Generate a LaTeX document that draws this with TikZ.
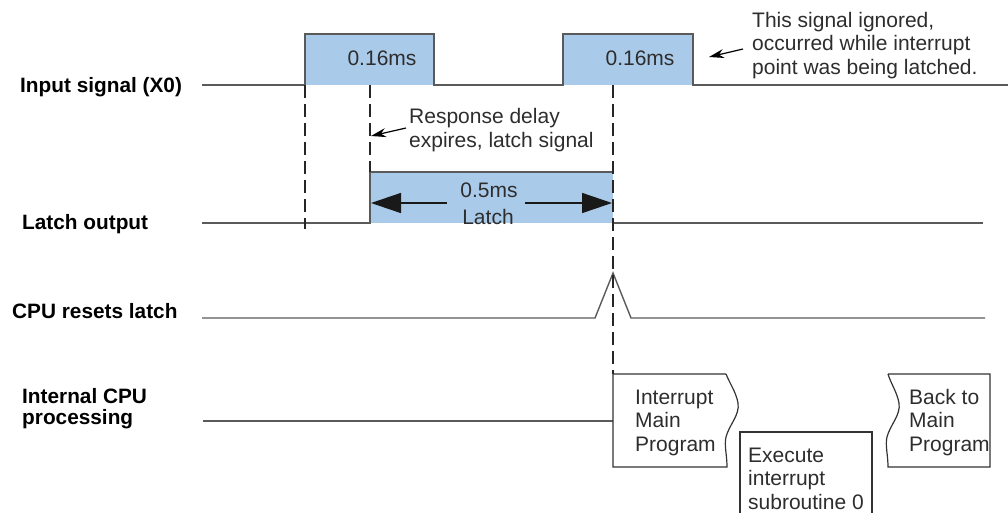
\documentclass[tikz,border=0pt]{standalone}
\usepackage{fontspec}
\setmainfont{Liberation Sans}
\usetikzlibrary{arrows.meta}
\definecolor{latchblue}{RGB}{170,202,234}
\definecolor{sig}{RGB}{90,90,90}
\definecolor{txt}{RGB}{45,45,45}
\begin{document}
\begin{tikzpicture}[x=1pt,y=-1pt,
  sigline/.style={draw=sig,line width=1.4pt},
  boxline/.style={draw=black!80,line width=1.2pt},
  guide/.style={draw=black!85,line width=1.3pt,dash pattern=on 13pt off 6pt},
  lbl/.style={font=\fontsize{20.8}{21}\selectfont\bfseries, text=black, inner sep=0pt, anchor=base west, align=left},
  ann/.style={font=\fontsize{21}{23.5}\selectfont, text=txt, inner sep=0pt, anchor=base west, align=left},
  annc/.style={font=\fontsize{21}{23.5}\selectfont, text=txt, inner sep=0pt, anchor=base},
  note/.style={draw=black,line width=1.2pt,-{Stealth[length=15pt,width=9pt]}},
  span/.style={draw=black!90,line width=1.5pt,-{Triangle[length=30pt,width=20pt]}}
]
\useasboundingbox (0,0) rectangle (1008,512);

% ---- labels (base anchor = last line's baseline)
\node[lbl] (lin) at (20,92) {Input signal (X0)};
\node[lbl] (llat) at (22,229) {Latch output};
\node[lbl] (lcpu) at (12,318) {CPU resets latch};
\node[lbl] (lint) at (22,424) {Internal CPU\\processing};

% ---- blue fills
\fill[latchblue] (305,34) rectangle (434,85);
\fill[latchblue] (563,34) rectangle (693,85);
\fill[latchblue] (370,172) rectangle (613,223);

% ---- input signal
\draw[sigline] (202,85) -- (305,85) -- (305,34) -- (434,34) -- (434,85) -- (563,85)
  -- (563,34) -- (693,34) -- (693,85) -- (1008,85);

% ---- latch output
\draw[sigline] (202,223) -- (370,223) -- (370,172) -- (613,172);
\draw[sigline] (613,223) -- (983,223);

% ---- CPU resets latch
\draw[sigline] (202,318) -- (595,318) -- (613,273) -- (631,318) -- (985,318);

% ---- internal CPU processing
\draw[sigline] (203,421) -- (613,421);

% ---- dashed guides
\draw[guide] (305,85) -- (305,229);
\draw[guide] (370,85) -- (370,172);
\draw[guide] (613,85) -- (613,374);

% ---- processing boxes
\draw[boxline] (726,374) -- (613,374) -- (613,467) -- (727,467)
  .. controls (727,455) and (724,445) .. (726,437)
  .. controls (729,425) and (740,415) .. (738,403)
  .. controls (736,392) and (730,384) .. (726,374);
\draw[boxline] (740,514) -- (740,432) -- (872,432) -- (872,514);
\draw[boxline] (888,374) -- (990,374) -- (990,467) -- (888,467)
  .. controls (888,455) and (885,445) .. (887,437)
  .. controls (890,425) and (901,415) .. (899,403)
  .. controls (897,392) and (891,384) .. (888,374);

% ---- texts
\node[annc] (p1) at (382,65) {0.16ms};
\node[annc] (p2) at (640,65) {0.16ms};
\node[ann] (ign) at (752,74) {This signal ignored,\\occurred while interrupt\\point was being latched.};
\coordinate (ignTip) at (709,57);
\draw[note] (743,49) -- (ignTip);
\node[ann] (resp) at (409,147) {Response delay\\expires, latch signal};
\coordinate (respTip) at (371,136);
\draw[note] (406,128) -- (respTip);

\node[annc] (dur) at (489,197) {0.5ms};
\node[annc] (dlat) at (488,224) {Latch};
\coordinate (spanL) at (371,203);
\coordinate (spanR) at (612,203);
\draw[span] (447,203) -- (spanL);
\draw[span] (525,203) -- (spanR);

\node[ann] (intr) at (635,451) {Interrupt\\Main\\Program};
\node[ann] (exec) at (748,509) {Execute\\interrupt\\subroutine 0};
\node[ann] (back) at (909,451) {Back to\\Main\\Program};
\end{tikzpicture}
\end{document}
